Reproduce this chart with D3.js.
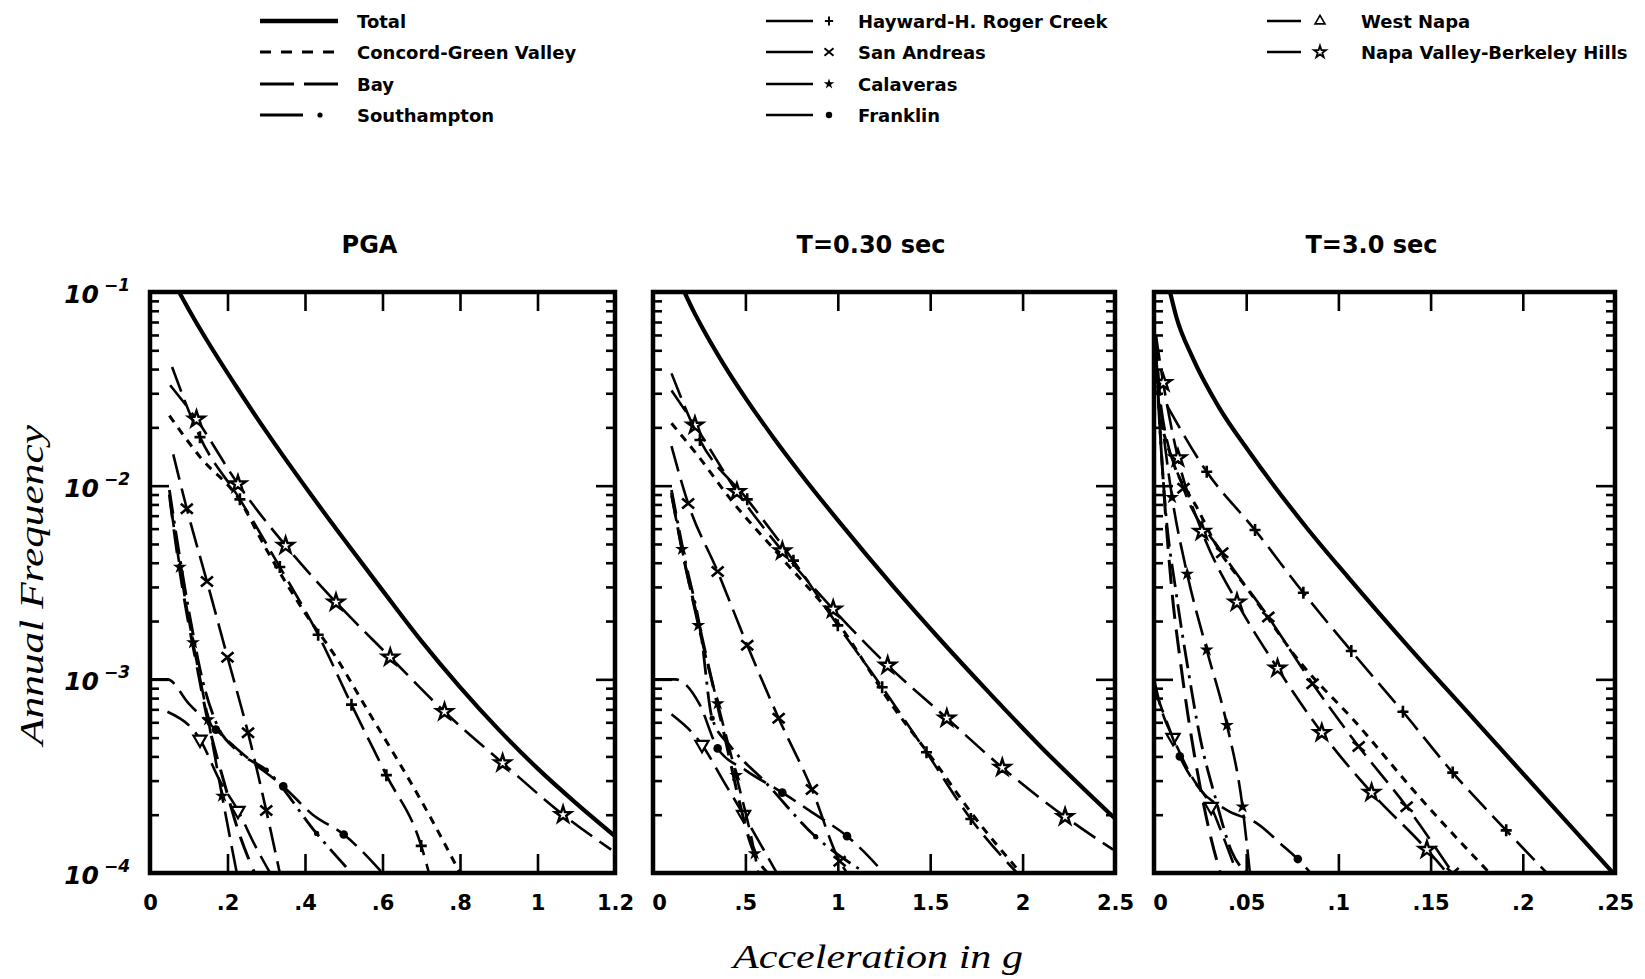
<!DOCTYPE html>
<html>
<head>
<meta charset="utf-8">
<script src="https://cdn.jsdelivr.net/npm/d3@7"></script>
<style>
  body { margin: 0; background: #fff; }
  text { font-family: "DejaVu Sans", sans-serif; font-weight: bold; fill: #000; }
  .serif { font-family: "Liberation Serif", serif; font-style: italic; font-weight: normal; }
</style>
</head>
<body>
<svg id="chart" width="1645" height="979"></svg>
<script>
// ---- data ----
const panelTitles = ["PGA", "T=0.30 sec", "T=3.0 sec"];
const xMaxes = [1.2, 2.5, 0.25];
const xTicks = [[0, .2, .4, .6, .8, 1, 1.2], [0, .5, 1, 1.5, 2, 2.5], [0, .05, .1, .15, .2, .25]];
const xTickLabels = [["0", ".2", ".4", ".6", ".8", "1", "1.2"], ["0", ".5", "1", "1.5", "2", "2.5"], ["0", ".05", ".1", ".15", ".2", ".25"]];
const yDecades = [1e-1, 1e-2, 1e-3, 1e-4];
const yExponents = ["-1", "-2", "-3", "-4"];
const legendNames = ["Total", "Concord-Green Valley", "Bay", "Southampton",
  "Hayward-H. Roger Creek", "San Andreas", "Calaveras", "Franklin",
  "West Napa", "Napa Valley-Berkeley Hills"];

// each series: one array per panel, points [accel, freq, marker?]
const total = [
  [[0.075,0.1],[0.10,0.0813],[0.15,0.055],[0.22,0.0331],[0.31,0.0178],[0.41,0.0093],[0.50,0.00530],[0.60,0.00288],[0.70,0.00158],[0.80,0.000912],[0.90,0.00055],[1.0,0.000347],[1.1,0.000229],[1.2,0.000155]],
  [[0.17,0.1],[0.22,0.0794],[0.27,0.0646],[0.38,0.0427],[0.51,0.0275],[0.65,0.0178],[0.80,0.0115],[1.01,0.00646],[1.30,0.00302],[1.55,0.00162],[1.82,0.000851],[2.09,0.000457],[2.5,0.000191]],
  [[0.0087,0.1],[0.012,0.075],[0.021,0.0457],[0.035,0.0256],[0.052,0.0148],[0.083,0.00603],[0.105,0.00339],[0.137,0.00151],[0.173,0.00063],[0.209,0.000263],[0.249,0.0001]]
];
const concordGreenValley = [
  [[0.05,0.023],[0.13,0.014],[0.23,0.0085],[0.30,0.0047],[0.40,0.0022],[0.48,0.0013],[0.56,0.0007],[0.64,0.00038],[0.72,0.0002],[0.80,0.0001]],
  [[0.10,0.021],[0.25,0.014],[0.42,0.0085],[0.69,0.0043],[1.01,0.0019],[1.30,0.00072],[1.52,0.00038],[1.73,0.0002],[1.99,0.0001]],
  [[0.003,0.022],[0.012,0.012],[0.023,0.0078],[0.035,0.0047],[0.051,0.0029],[0.080,0.0012],[0.108,0.00062],[0.145,0.00024],[0.182,0.0001]]
];
const bay = [
  [[0.05,0.009],[0.07,0.0045],[0.09,0.0025],[0.12,0.0012],[0.15,0.0006],[0.19,0.0003],[0.23,0.00016],[0.27,0.0001]],
  [[0.10,0.0092],[0.16,0.0045],[0.25,0.0019],[0.34,0.0008],[0.40,0.00045],[0.46,0.00025],[0.53,0.00014],[0.62,0.0001]],
  [[0.001,0.05],[0.004,0.015],[0.0098,0.0028],[0.014,0.0013],[0.019,0.0006],[0.025,0.00028],[0.031,0.00015],[0.036,0.0001]]
];
const southampton = [
  [[0.05,0.0095],[0.075,0.0045],[0.105,0.002],[0.135,0.001],[0.17,0.0006],[0.23,0.00042],[0.30,0.00034,1],[0.43,0.00016,1],[0.52,0.0001]],
  [[0.10,0.0095],[0.17,0.0043],[0.26,0.0017],[0.32,0.00063,1],[0.42,0.00045],[0.60,0.0003],[0.88,0.000154,1],[1.15,0.0001]],
  [[0.001,0.045],[0.006,0.008],[0.012,0.0028],[0.018,0.0012],[0.025,0.0005],[0.033,0.00025],[0.042,0.00013],[0.05,0.0001,1]]
];
const hayward = [
  [[0.057,0.041],[0.129,0.0178,1],[0.232,0.0085,1],[0.335,0.0038,1],[0.434,0.0017,1],[0.52,0.00074,1],[0.61,0.00032,1],[0.70,0.000138,1],[0.72,0.0001]],
  [[0.10,0.038],[0.254,0.0172,1],[0.51,0.0085,1],[0.76,0.0041,1],[1.0,0.0019,1],[1.24,0.00091,1],[1.48,0.00042,1],[1.72,0.00019,1],[1.97,0.0001]],
  [[0.007,0.026],[0.0286,0.0118,1],[0.0548,0.0059,1],[0.081,0.0028,1],[0.107,0.0014,1],[0.135,0.00068,1],[0.162,0.00033,1],[0.191,0.000166,1],[0.213,0.0001]]
];
const sanAndreas = [
  [[0.06,0.0145],[0.095,0.0076,1],[0.147,0.0032,1],[0.20,0.0013,1],[0.253,0.00053,1],[0.30,0.00021,1],[0.335,0.0001]],
  [[0.10,0.016],[0.19,0.0081,1],[0.35,0.0036,1],[0.51,0.0015,1],[0.68,0.00063,1],[0.86,0.00027,1],[1.01,0.000115,1],[1.05,0.0001]],
  [[0.001,0.06],[0.004,0.025],[0.016,0.0097,1],[0.037,0.0045,1],[0.062,0.0021,1],[0.086,0.00095,1],[0.111,0.00045,1],[0.137,0.00022,1],[0.162,0.0001,1]]
];
const calaveras = [
  [[0.052,0.0083],[0.077,0.0038,1],[0.111,0.00155,1],[0.15,0.00062,1],[0.186,0.00025,1],[0.224,0.0001]],
  [[0.10,0.0089],[0.157,0.0047,1],[0.245,0.0019,1],[0.35,0.00075,1],[0.45,0.00032,1],[0.55,0.000126,1],[0.57,0.0001]],
  [[0.001,0.04],[0.0098,0.0087,1],[0.018,0.0035,1],[0.0286,0.00142,1],[0.0396,0.00058,1],[0.048,0.00022,1],[0.052,0.0001]]
];
const franklin = [
  [[0,0.001],[0.045,0.001],[0.10,0.00075],[0.17,0.00055,1],[0.26,0.00038],[0.344,0.00028,1],[0.42,0.0002],[0.50,0.000158,1],[0.60,0.0001]],
  [[0,0.001],[0.12,0.001],[0.25,0.00075],[0.35,0.00044,1],[0.50,0.00034],[0.70,0.00026,1],[0.88,0.0002],[1.05,0.000155,1],[1.25,0.0001]],
  [[0,0.0009],[0.007,0.0006],[0.014,0.0004,1],[0.025,0.00027],[0.04,0.00021],[0.056,0.00018],[0.070,0.000138],[0.078,0.000118,1],[0.085,0.0001]]
];
const westNapa = [
  [[0.045,0.00068],[0.129,0.00049,1],[0.18,0.0003],[0.227,0.00021,1],[0.27,0.00014],[0.31,0.0001]],
  [[0.10,0.00066],[0.265,0.00046,1],[0.38,0.0003],[0.49,0.0002,1],[0.67,0.0001]],
  [[0,0.001],[0.004,0.0007],[0.0103,0.0005,1],[0.02,0.00032],[0.031,0.00022,1],[0.038,0.00015],[0.045,0.0001]]
];
const napaValleyBerkeley = [
  [[0.052,0.033],[0.12,0.022,1],[0.227,0.0102,1],[0.35,0.0049,1],[0.48,0.0025,1],[0.62,0.0013,1],[0.76,0.00068,1],[0.91,0.00037,1],[1.066,0.0002,1],[1.19,0.000132]],
  [[0.10,0.031],[0.227,0.0205,1],[0.454,0.0093,1],[0.70,0.0046,1],[0.975,0.0023,1],[1.27,0.00118,1],[1.59,0.00063,1],[1.89,0.00035,1],[2.23,0.000195,1],[2.49,0.000132]],
  [[0.001,0.06],[0.005,0.034,1],[0.013,0.0139,1],[0.026,0.0058,1],[0.045,0.0025,1],[0.067,0.00114,1],[0.091,0.00053,1],[0.118,0.00026,1],[0.148,0.000132,1],[0.159,0.0001]]
];

// ---- styles ----
const longDash = "26,9";
const series = [
  { name: legendNames[0], data: total, dash: null, width: 4.2, marker: null },
  { name: legendNames[1], data: concordGreenValley, dash: "8,7", width: 3, marker: null },
  { name: legendNames[2], data: bay, dash: "24,11", width: 3, marker: null },
  { name: legendNames[3], data: southampton, dash: "24,7,3,7", width: 2.8, marker: "dot" },
  { name: legendNames[4], data: hayward, dash: longDash, width: 2.6, marker: "plus" },
  { name: legendNames[5], data: sanAndreas, dash: longDash, width: 2.6, marker: "cross" },
  { name: legendNames[6], data: calaveras, dash: longDash, width: 2.6, marker: "smallStar" },
  { name: legendNames[7], data: franklin, dash: longDash, width: 2.6, marker: "disc" },
  { name: legendNames[8], data: westNapa, dash: longDash, width: 2.6, marker: "triangle" },
  { name: legendNames[9], data: napaValleyBerkeley, dash: longDash, width: 2.6, marker: "openStar" }
];

const svg = d3.select("#chart");
const plotTop = 292, plotBottom = 873;
const panelX = [150, 653, 1154], panelW = [465, 462, 461];

const yScale = d3.scaleLog().domain([1e-4, 1e-1]).range([plotBottom, plotTop]);

// draws one marker symbol at (0,0) inside g
function drawMarker(g, type, inLegend) {
  if (type === "plus") {
    g.append("path").attr("d", "M-5.5,0H5.5M0,-6V6").attr("stroke", "#000").attr("stroke-width", 2.6);
  } else if (type === "cross") {
    g.append("path").attr("d", "M-6,-5L6,5M-6,5L6,-5").attr("stroke", "#000").attr("stroke-width", 2.6);
  } else if (type === "smallStar") {
    g.append("path").attr("d", d3.symbol(d3.symbolStar).size(60)()).attr("fill", "#000");
  } else if (type === "disc") {
    g.append("circle").attr("r", 4.3).attr("fill", "#000");
  } else if (type === "dot") {
    g.append("circle").attr("r", 2.6).attr("fill", "#000");
  } else if (type === "triangle") {
    g.append("path").attr("d", d3.symbol(d3.symbolTriangle).size(75)())
      .attr("transform", inLegend ? null : "rotate(180)")
      .attr("fill", "#fff").attr("stroke", "#000").attr("stroke-width", 2.2);
  } else if (type === "openStar") {
    g.append("path").attr("d", d3.symbol(d3.symbolStar).size(80)())
      .attr("fill", "#fff").attr("stroke", "#000").attr("stroke-width", 2.4);
  }
}

// minor tick values between decades
const minorTicks = [];
[-4, -3, -2].forEach(e => { for (let k = 2; k <= 9; k++) minorTicks.push(k * Math.pow(10, e)); });
const majorTicks = [1e-2, 1e-3];

panelTitles.forEach((title, p) => {
  const x0 = panelX[p], x1 = panelX[p] + panelW[p];
  const xScale = d3.scaleLinear().domain([0, xMaxes[p]]).range([x0, x1]);
  const g = svg.append("g");

  g.append("clipPath").attr("id", "clip" + p)
    .append("rect").attr("x", x0).attr("y", plotTop).attr("width", x1 - x0).attr("height", plotBottom - plotTop);

  const line = d3.line().x(d => xScale(d[0])).y(d => yScale(d[1])).curve(d3.curveMonotoneX);

  const plot = g.append("g").attr("clip-path", `url(#clip${p})`);
  series.slice().reverse().forEach(s => {
    plot.append("path").datum(s.data[p])
      .attr("d", line)
      .attr("fill", "none")
      .attr("stroke", "#000")
      .attr("stroke-width", s.width)
      .attr("stroke-dasharray", s.dash)
      .attr("stroke-linejoin", "round");
    if (s.marker) {
      s.data[p].filter(d => d[2]).forEach(d => {
        const m = plot.append("g").attr("transform", `translate(${xScale(d[0])},${yScale(d[1])})`);
        drawMarker(m, s.marker, false);
      });
    }
  });

  // axes: ticks pointing inward
  const bottomAxis = g.append("g").attr("transform", `translate(0,${plotBottom})`)
    .call(d3.axisBottom(xScale).tickValues(xTicks[p]).tickFormat((d, i) => xTickLabels[p][i])
      .tickSizeInner(-19).tickSizeOuter(0).tickPadding(22));
  bottomAxis.selectAll("text").attr("font-size", 21).attr("dy", "0.71em")
    .attr("font-family", "DejaVu Sans").attr("font-weight", "bold");
  bottomAxis.selectAll("text").filter(d => d === 0 && p > 0).attr("dx", 6);

  g.append("g").attr("transform", `translate(0,${plotTop})`)
    .call(d3.axisTop(xScale).tickValues(xTicks[p]).tickFormat("").tickSizeInner(-19).tickSizeOuter(0));

  [[x0, d3.axisLeft], [x1, d3.axisRight]].forEach(([ax, axisFn]) => {
    g.append("g").attr("transform", `translate(${ax},0)`)
      .call(axisFn(yScale).tickValues(minorTicks).tickFormat("").tickSizeInner(-9).tickSizeOuter(0));
    g.append("g").attr("transform", `translate(${ax},0)`)
      .call(axisFn(yScale).tickValues(majorTicks).tickFormat("").tickSizeInner(-19).tickSizeOuter(0));
  });

  g.selectAll(".domain").remove();
  g.selectAll(".tick line").attr("stroke", "#000").attr("stroke-width", 2.6);

  g.append("rect").attr("x", x0).attr("y", plotTop).attr("width", x1 - x0).attr("height", plotBottom - plotTop)
    .attr("fill", "none").attr("stroke", "#000").attr("stroke-width", 4.5);

  g.append("text").attr("x", (x0 + x1) / 2 - 13).attr("y", 253)
    .attr("text-anchor", "middle").attr("font-size", 24).text(title);
});

// y tick labels (first panel only)
yDecades.forEach((v, i) => {
  const t = svg.append("text").attr("x", 130).attr("y", yScale(v) + 11)
    .attr("text-anchor", "end").attr("font-size", 25).attr("font-style", "italic");
  t.append("tspan").text("10");
  t.append("tspan").attr("dy", -12).attr("dx", 5).attr("font-size", 17).text(yExponents[i].replace("-", "\u2212"));
});

// axis titles
svg.append("text").attr("class", "serif").attr("x", 878).attr("y", 968)
  .attr("text-anchor", "middle").attr("font-size", 33)
  .attr("textLength", 290).attr("lengthAdjust", "spacingAndGlyphs").text("Acceleration in g");
svg.append("text").attr("class", "serif")
  .attr("transform", "translate(43,585) rotate(-90)")
  .attr("text-anchor", "middle").attr("font-size", 33)
  .attr("textLength", 320).attr("lengthAdjust", "spacingAndGlyphs").text("Annual Frequency");

// legend
const legendRows = [21, 52, 84, 115];
const legend = svg.append("g");
function legendText(x, y, label) {
  legend.append("text").attr("x", x).attr("y", y + 7).attr("font-size", 18).text(label);
}
// column 1: line styles
legend.append("line").attr("x1", 260).attr("x2", 338).attr("y1", legendRows[0]).attr("y2", legendRows[0])
  .attr("stroke", "#000").attr("stroke-width", 4.5);
legend.append("line").attr("x1", 260).attr("x2", 338).attr("y1", legendRows[1]).attr("y2", legendRows[1])
  .attr("stroke", "#000").attr("stroke-width", 3).attr("stroke-dasharray", "11,10");
legend.append("line").attr("x1", 260).attr("x2", 338).attr("y1", legendRows[2]).attr("y2", legendRows[2])
  .attr("stroke", "#000").attr("stroke-width", 2.8).attr("stroke-dasharray", "34,10");
legend.append("line").attr("x1", 260).attr("x2", 303).attr("y1", legendRows[3]).attr("y2", legendRows[3])
  .attr("stroke", "#000").attr("stroke-width", 2.8);
legend.append("circle").attr("cx", 320).attr("cy", legendRows[3]).attr("r", 2.6).attr("fill", "#000");
legendNames.slice(0, 4).forEach((n, i) => legendText(357, legendRows[i], n));

// columns 2 and 3: short line + marker
const markerCols = [
  { lineX: [766, 813], markX: 829, textX: 858, items: series.slice(4, 8) },
  { lineX: [1267, 1301], markX: 1320, textX: 1361, items: series.slice(8, 10) }
];
markerCols.forEach(col => {
  col.items.forEach((s, i) => {
    const y = legendRows[i];
    legend.append("line").attr("x1", col.lineX[0]).attr("x2", col.lineX[1]).attr("y1", y).attr("y2", y)
      .attr("stroke", "#000").attr("stroke-width", 2.4);
    const m = legend.append("g").attr("transform", `translate(${col.markX},${y}) scale(0.75)`);
    drawMarker(m, s.marker, true);
    legendText(col.textX, y, s.name);
  });
});
</script>
</body>
</html>
